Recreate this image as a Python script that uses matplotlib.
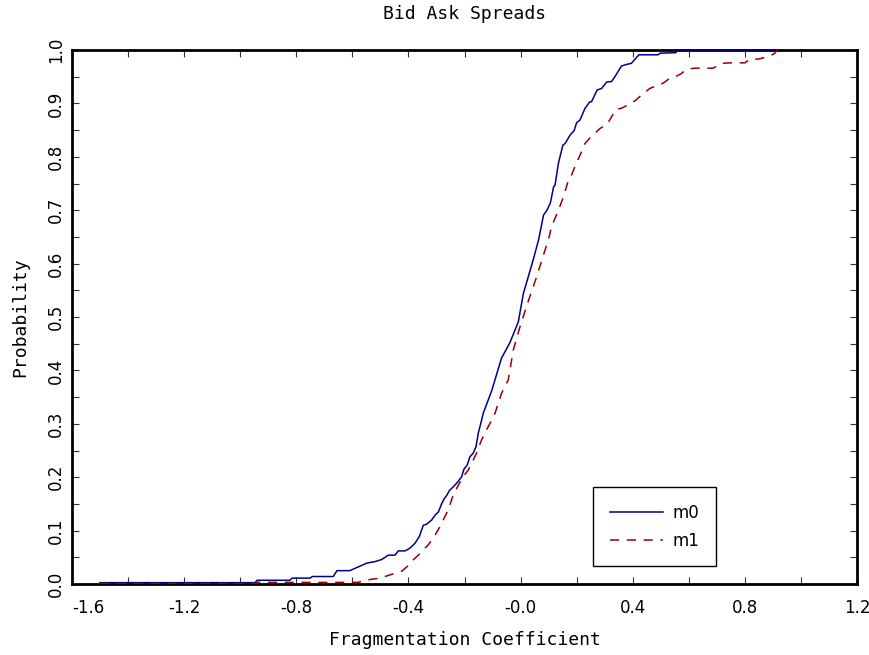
import matplotlib
matplotlib.use('Agg')
import matplotlib.pyplot as plt
from matplotlib.ticker import MultipleLocator

m0_x = [-1.50, -0.947, -0.940, -0.823, -0.815, -0.751, -0.743, -0.668, -0.655, -0.609,
        -0.579, -0.549, -0.519, -0.495, -0.472, -0.448, -0.436, -0.412, -0.395, -0.377,
        -0.361, -0.347, -0.335, -0.317, -0.305, -0.293, -0.281, -0.273, -0.262, -0.254,
        -0.240, -0.226, -0.210, -0.202, -0.190, -0.181, -0.169, -0.159, -0.151, -0.139,
        -0.133, -0.103, -0.068, -0.038, -0.008, 0.010, 0.045, 0.064, 0.082, 0.094,
        0.106, 0.118, 0.123, 0.135, 0.151, 0.159, 0.177, 0.191, 0.200, 0.212,
        0.230, 0.247, 0.253, 0.273, 0.289, 0.307, 0.325, 0.340, 0.360, 0.378,
        0.395, 0.422, 0.490, 0.498, 0.554, 0.560, 0.907]
m0_y = [0.0025, 0.0025, 0.007, 0.007, 0.011, 0.011, 0.014, 0.014, 0.025, 0.025,
        0.032, 0.039, 0.042, 0.046, 0.054, 0.054, 0.062, 0.062, 0.067, 0.076,
        0.089, 0.110, 0.112, 0.120, 0.129, 0.135, 0.151, 0.159, 0.167, 0.175,
        0.182, 0.190, 0.201, 0.215, 0.223, 0.238, 0.245, 0.257, 0.282, 0.307,
        0.320, 0.362, 0.423, 0.452, 0.491, 0.544, 0.607, 0.644, 0.691, 0.700,
        0.713, 0.744, 0.747, 0.788, 0.822, 0.825, 0.841, 0.849, 0.864, 0.869,
        0.891, 0.903, 0.903, 0.925, 0.928, 0.940, 0.941, 0.953, 0.970, 0.973,
        0.975, 0.991, 0.991, 0.994, 0.995, 1.0, 1.0]

m1_x = [-1.50, -0.95, -0.94, -0.58, -0.549, -0.502, -0.460, -0.424, -0.406, -0.383,
        -0.359, -0.330, -0.311, -0.288, -0.258, -0.240, -0.222, -0.205, -0.187, -0.169,
        -0.157, -0.139, -0.122, -0.103, -0.091, -0.068, -0.044, -0.026, -0.002, 0.027,
        0.057, 0.087, 0.099, 0.111, 0.135, 0.153, 0.171, 0.182, 0.194, 0.212,
        0.230, 0.247, 0.265, 0.283, 0.307, 0.318, 0.340, 0.360, 0.390, 0.411,
        0.432, 0.461, 0.509, 0.527, 0.556, 0.574, 0.592, 0.622, 0.687, 0.717,
        0.752, 0.800, 0.818, 0.848, 0.880, 0.901, 0.907, 0.915]
m1_y = [0.001, 0.001, 0.003, 0.003, 0.0075, 0.011, 0.018, 0.024, 0.032, 0.045,
        0.057, 0.073, 0.086, 0.107, 0.139, 0.167, 0.185, 0.201, 0.213, 0.232,
        0.245, 0.270, 0.288, 0.307, 0.320, 0.357, 0.382, 0.438, 0.482, 0.529,
        0.575, 0.625, 0.644, 0.670, 0.700, 0.725, 0.757, 0.766, 0.782, 0.803,
        0.825, 0.835, 0.844, 0.853, 0.860, 0.869, 0.889, 0.891, 0.899, 0.906,
        0.916, 0.928, 0.938, 0.945, 0.951, 0.956, 0.964, 0.966, 0.966, 0.975,
        0.976, 0.976, 0.983, 0.983, 0.987, 0.992, 0.994, 1.0]

x_ticks = [-1.6, -1.2, -0.8, -0.4, 0.0, 0.4, 0.8, 1.2]
x_tick_labels = ['-1.6', '-1.2', '-0.8', '-0.4', '-0.0', '0.4', '0.8', '1.2']
y_ticks = [0.0, 0.1, 0.2, 0.3, 0.4, 0.5, 0.6, 0.7, 0.8, 0.9, 1.0]
y_tick_labels = ['0.0', '0.1', '0.2', '0.3', '0.4', '0.5', '0.6', '0.7', '0.8', '0.9', '1.0']

plt.rcParams['font.family'] = ['DejaVu Sans']
plt.rcParams['font.size'] = 12

fig = plt.figure(figsize=(8.69, 6.55), dpi=100)
ax = fig.add_axes([72 / 869, 1 - 584 / 655, 785 / 869, 534 / 655])

ax.plot(m0_x, m0_y, color='#00008c', lw=1.1, label='m0', zorder=3, clip_on=False)
ax.plot(m1_x, m1_y, color='#990000', lw=1.1, ls=(0, (6, 5)), label='m1', zorder=3)

ax.set_xlim(-1.6, 1.2)
ax.set_ylim(0.0, 1.0)
ax.set_xticks(x_ticks)
ax.set_xticklabels(x_tick_labels)
ax.set_yticks(y_ticks)
ax.set_yticklabels(y_tick_labels, rotation=90, va='center')
ax.xaxis.set_minor_locator(MultipleLocator(0.2))
ax.yaxis.set_minor_locator(MultipleLocator(0.05))
ax.tick_params(which='both', direction='in', top=True, right=True,
               length=5, width=0.8, color='#333333')
ax.tick_params(axis='x', pad=11)
ax.tick_params(axis='y', pad=5)
ax.get_xticklabels()[0].set_ha('left')

for s in ax.spines.values():
    s.set_linewidth(2.0)

lab_font = dict(family='DejaVu Sans Mono', fontsize=13)
ax.set_title('Bid Ask Spreads', pad=22, **lab_font)
ax.set_xlabel('Fragmentation Coefficient', labelpad=10, **lab_font)
ax.set_ylabel('Probability', labelpad=13, **lab_font)

leg = ax.legend(loc='upper left', bbox_to_anchor=((593 - 72) / 785, (584 - 487) / 534),
                frameon=True, fancybox=False, framealpha=1, edgecolor='black',
                handlelength=3.2, handletextpad=0.55, borderpad=1.0,
                labelspacing=0.6, borderaxespad=0)
leg.get_frame().set_linewidth(1.0)

fig.savefig('out.png', dpi=100)
